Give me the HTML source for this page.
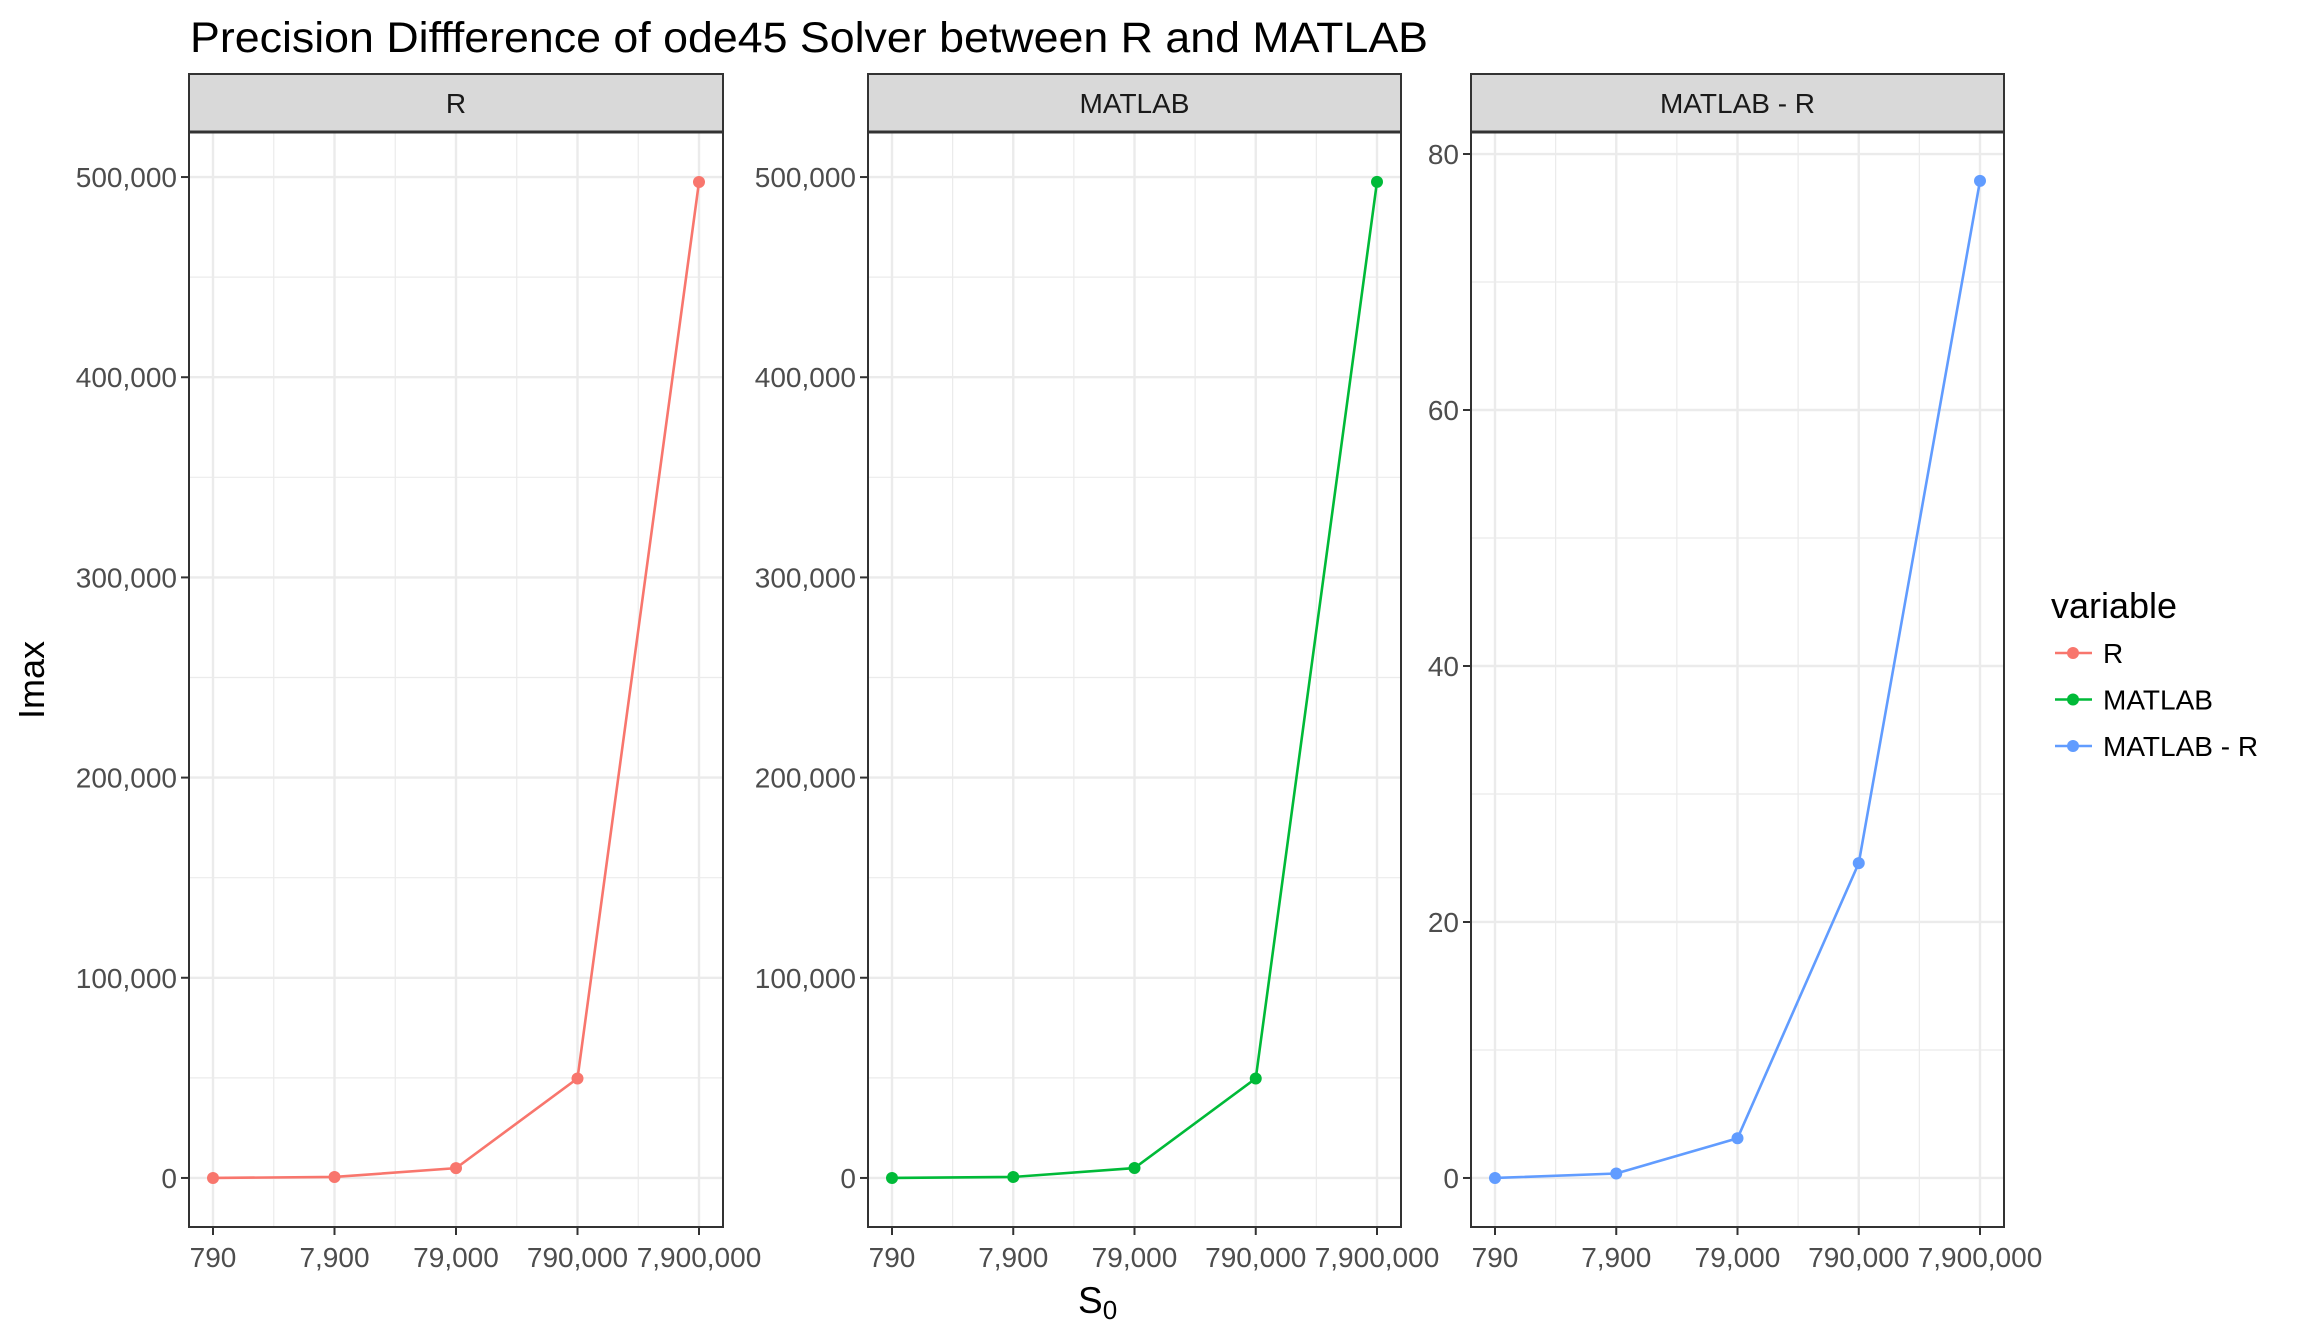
<!DOCTYPE html>
<html><head><meta charset="utf-8"><style>
html,body{margin:0;padding:0;background:#fff;}
svg{display:block;font-family:"Liberation Sans",Arial,sans-serif;}
</style></head><body>
<svg id="chart" width="2304" height="1344" viewBox="0 0 2304 1344" xmlns="http://www.w3.org/2000/svg">
<text x="190" y="52" font-size="43" fill="#000" textLength="1238" lengthAdjust="spacingAndGlyphs">Precision Diffference of ode45 Solver between R and MATLAB</text>
<text transform="translate(44,680) rotate(-90)" text-anchor="middle" font-size="36" fill="#000">Imax</text>
<text x="1078" y="1313" font-size="37" fill="#000">S<tspan font-size="26" dy="6">0</tspan></text>
<g id="legend">
<text x="2051" y="618" font-size="36" fill="#000">variable</text>
</g>
</svg>
<script>
const categories = ["790","7,900","79,000","790,000","7,900,000"];
const seriesR = [0.2, 500, 4900, 49700, 497500];
const seriesMATLAB = [0.2, 500, 4950, 49700, 497600];
const seriesDiff = [0, 0.35, 3.1, 24.6, 77.9];
const panelNames = ["R","MATLAB","MATLAB - R"];
const colors = ["#F8766D","#00BA38","#619CFF"];
const bigTicks = [0,100000,200000,300000,400000,500000];
const bigTickLabels = ["0","100,000","200,000","300,000","400,000","500,000"];
const bigMinor = [50000,150000,250000,350000,450000];
const smallTicks = [0,20,40,60,80];
const smallTickLabels = ["0","20","40","60","80"];
const smallMinor = [10,30,50,70];

const NS="http://www.w3.org/2000/svg";
const svgEl=document.getElementById('chart');
function mk(tag,attrs,parent){const e=document.createElementNS(NS,tag);for(const k in attrs)e.setAttribute(k,attrs[k]);(parent||svgEl).appendChild(e);return e;}

const panels=[
 {x0:189,x1:723,data:seriesR,ymin:-24500,ymax:522500,ticks:bigTicks,labels:bigTickLabels,minor:bigMinor},
 {x0:868,x1:1401,data:seriesMATLAB,ymin:-24500,ymax:522500,ticks:bigTicks,labels:bigTickLabels,minor:bigMinor},
 {x0:1471,x1:2004,data:seriesDiff,ymin:-3.83,ymax:81.72,ticks:smallTicks,labels:smallTickLabels,minor:smallMinor}
];
const plotTop=132,plotBottom=1227,stripTop=74;

panels.forEach((p,pi)=>{
 const g=mk('g',{});
 
 
 const n=categories.length;
 const xs=i=>p.x0+24+i*(p.x1-p.x0-48)/(n-1);
 const ys=v=>plotBottom-(v-p.ymin)/(p.ymax-p.ymin)*(plotBottom-plotTop);
 mk('rect',{x:p.x0,y:plotTop,width:p.x1-p.x0,height:plotBottom-plotTop,fill:'#fff'},g);
 p.minor.forEach(v=>{const l=mk('line',{x1:p.x0,x2:p.x1,y1:ys(v),y2:ys(v),stroke:'#EBEBEB','stroke-width':1.2},g);
  
  });
 for(let i=0;i<n-1;i++){const x=(xs(i)+xs(i+1))/2;mk('line',{x1:x,x2:x,y1:plotTop,y2:plotBottom,stroke:'#EBEBEB','stroke-width':1.2},g);}
 p.ticks.forEach((v,k)=>{const y=ys(v);
  const l=mk('line',{x1:p.x0,x2:p.x1,y1:y,y2:y,stroke:'#EBEBEB','stroke-width':2.4},g);
  
  
  mk('line',{x1:p.x0-8,x2:p.x0,y1:y,y2:y,stroke:'#333','stroke-width':2},g);
  const t=mk('text',{x:p.x0-12,y:y+10,'text-anchor':'end','font-size':28,fill:'#4D4D4D'},g);
  
  
  t.textContent=p.labels[k];});
 categories.forEach((c,i)=>{const x=xs(i);
  mk('line',{x1:x,x2:x,y1:plotTop,y2:plotBottom,stroke:'#EBEBEB','stroke-width':2.4},g);
  mk('line',{x1:x,x2:x,y1:plotBottom,y2:plotBottom+8,stroke:'#333','stroke-width':2},g);
  const t=mk('text',{x:x,y:1267,'text-anchor':'middle','font-size':28,fill:'#4D4D4D'},g);
  
  
  t.textContent=c;});
 const pts=p.data.map((v,i)=>xs(i)+','+ys(v)).join(' ');
 const pl=mk('polyline',{points:pts,fill:'none',stroke:colors[pi],'stroke-width':2.6},g);
 
 
 p.data.forEach((v,i)=>{const c=mk('circle',{cx:xs(i),cy:ys(v),r:6,fill:colors[pi]},g);
  
  });
 mk('rect',{x:p.x0,y:plotTop,width:p.x1-p.x0,height:plotBottom-plotTop,fill:'none',stroke:'#333','stroke-width':2},g);
 const s=mk('rect',{x:p.x0,y:stripTop,width:p.x1-p.x0,height:plotTop-stripTop,fill:'#D9D9D9',stroke:'#333','stroke-width':2},g);
 
 
 mk('line',{x1:p.x0,x2:p.x1,y1:plotTop,y2:plotTop,stroke:'#333','stroke-width':3},g);
 const st=mk('text',{x:(p.x0+p.x1)/2,y:113,'text-anchor':'middle','font-size':28,fill:'#1A1A1A'},g);
 
 
 st.textContent=panelNames[pi];
});

const lg=document.getElementById('legend');
panelNames.forEach((nm,i)=>{
 const y=653+i*46.5;
 const g=mk('g',{},lg);
 
 
 mk('line',{x1:2055,x2:2092,y1:y,y2:y,stroke:colors[i],'stroke-width':2.6},g);
 mk('circle',{cx:2073,cy:y,r:6,fill:colors[i]},g);
 const t=mk('text',{x:2103,y:y+10,'font-size':28,fill:'#000'},g);
 t.textContent=nm;
});
</script>
</body></html>
